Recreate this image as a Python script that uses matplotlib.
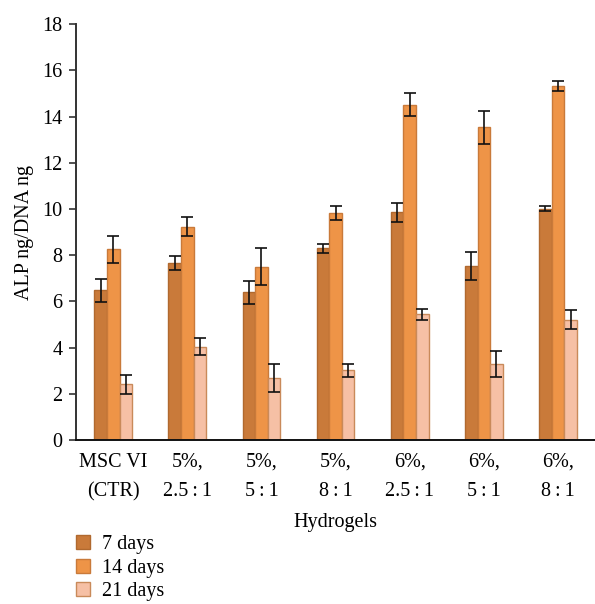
import matplotlib
matplotlib.use("Agg")
import matplotlib.pyplot as plt
import numpy as np

categories = ["MSC VI\n(CTR)", "5%,\n2.5\u2009:\u20091", "5%,\n5\u2009:\u20091", "5%,\n8\u2009:\u20091",
              "6%,\n2.5\u2009:\u20091", "6%,\n5\u2009:\u20091", "6%,\n8\u2009:\u20091"]
series_names = ["7 days", "14 days", "21 days"]
days7 = [6.49, 7.66, 6.40, 8.29, 9.85, 7.54, 10.01]
days7_err = [0.50, 0.30, 0.50, 0.20, 0.41, 0.60, 0.10]
days14 = [8.25, 9.23, 7.50, 9.81, 14.52, 13.53, 15.32]
days14_err = [0.60, 0.42, 0.80, 0.30, 0.51, 0.70, 0.21]
days21 = [2.42, 4.04, 2.70, 3.01, 5.44, 3.29, 5.21]
days21_err = [0.41, 0.36, 0.61, 0.30, 0.24, 0.56, 0.41]
yticks = [0, 2, 4, 6, 8, 10, 12, 14, 16, 18]

colors = ["#c97a3a", "#ee9447", "#f6c0a5"]
edges = ["#b0692f", "#c97a3a", "#c98a5a"]

plt.rcParams['font.family'] = ['Liberation Serif', 'DejaVu Serif']

fig = plt.figure(figsize=(5.95, 6.04), dpi=100)
ax = fig.add_axes([0.128, 0.2715, 0.872, 0.6885])

x = np.arange(len(categories))
w = 0.17
for i, (vals, errs) in enumerate(zip([days7, days14, days21], [days7_err, days14_err, days21_err])):
    ax.bar(x + (i - 1) * w, vals, width=w, color=colors[i], edgecolor=edges[i], linewidth=1.0,
           yerr=errs, error_kw=dict(ecolor="#111111", elinewidth=1.2, capsize=4, capthick=1.2),
           label=series_names[i], zorder=2)

ax.set_xlim(-0.5, 6.5)
ax.set_ylim(0, 18)
ax.set_yticks(yticks)
ax.set_xticks(x)
ax.set_xticklabels(categories, fontsize=14.5, linespacing=1.75)
ax.tick_params(axis='x', length=0, pad=9)
ax.tick_params(axis='y', labelsize=14.5, length=5, width=1.2, color="#333333", direction='out', pad=5)
for s in ["top", "right"]:
    ax.spines[s].set_visible(False)
ax.spines["left"].set_color("#333333")
ax.spines["left"].set_linewidth(1.4)
ax.spines["bottom"].set_color("#111111")
ax.spines["bottom"].set_linewidth(1.4)
ax.set_ylabel("ALP ng/DNA ng", fontsize=14.5, labelpad=6)
ax.set_xlabel("Hydrogels", fontsize=14.5, labelpad=8)

fig.legend(loc="upper left", bbox_to_anchor=(0.127, 0.114), frameon=False, fontsize=14.5,
           handlelength=0.7, handleheight=0.7, labelspacing=0.22, handletextpad=0.6,
           borderaxespad=0, borderpad=0)

fig.savefig("out.png", dpi=100)
